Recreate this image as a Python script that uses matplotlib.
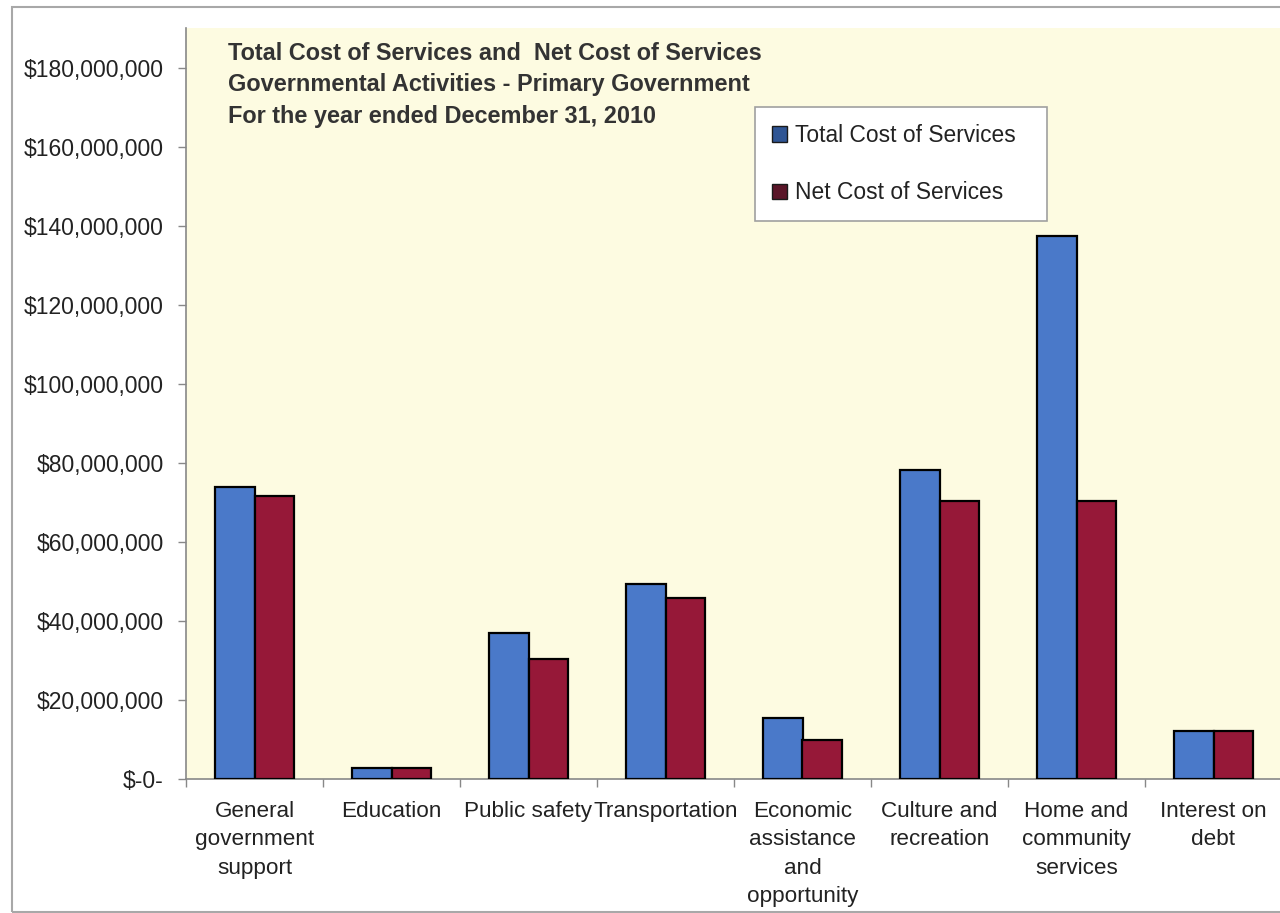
import matplotlib
matplotlib.use('Agg')
from matplotlib import pyplot as plt
from matplotlib.patches import Rectangle, Patch
from matplotlib.ticker import FuncFormatter
import numpy as np

plt.rcParams['font.family'] = ['Liberation Sans', 'DejaVu Sans']

# cost of services by function, 2010
categories = ['General\ngovernment\nsupport', 'Education', 'Public safety',
              'Transportation', 'Economic\nassistance\nand\nopportunity',
              'Culture and\nrecreation', 'Home and\ncommunity\nservices',
              'Interest on\ndebt']
total_cost = [73.8e6, 2.8e6, 36.9e6, 49.3e6, 15.4e6, 78.1e6, 137.3e6, 12.1e6]
net_cost = [71.5e6, 2.8e6, 30.3e6, 45.8e6, 9.9e6, 70.3e6, 70.3e6, 12.1e6]
series_names = ['Total Cost of Services', 'Net Cost of Services']
title_lines = ['Total Cost of Services and  Net Cost of Services',
               'Governmental Activities - Primary Government',
               'For the year ended December 31, 2010']

blue = '#4a79c9'
red = '#961838'

fig = plt.figure(figsize=(12.8, 9.13), dpi=100)
fig.patch.set_facecolor('white')

# outer chart frame
fig.patches.append(Rectangle((12 / 1280, 1 / 913), 1.0, 905 / 913,
                             transform=fig.transFigure, fill=False,
                             edgecolor='#a8a8a8', linewidth=1.5))

ax = fig.add_axes([186 / 1280, 134 / 913, 1096 / 1280, 751 / 913])
ax.set_facecolor('#fdfbe1')

x = np.arange(len(categories))
w = 0.29
ax.bar(x - w / 2, total_cost, w, color=blue, edgecolor='black', linewidth=1.6, zorder=3)
ax.bar(x + w / 2, net_cost, w, color=red, edgecolor='black', linewidth=1.6, zorder=3)

ax.set_xlim(-0.5, len(categories) - 0.5)
ax.set_ylim(0, 190e6)
ax.set_yticks(np.arange(0, 180e6 + 1, 20e6))
ax.yaxis.set_major_formatter(FuncFormatter(lambda v, p: '$-0-' if v == 0 else '${:,.0f}'.format(v)))
ax.tick_params(axis='y', labelsize=16.5, colors='#222222', length=6, width=1,
               pad=10, color='#888888')

ax.set_xticks(x)
ax.set_xticklabels(categories, fontsize=16.2, color='#222222', linespacing=1.45)
ax.tick_params(axis='x', length=0, pad=16)
ax.set_xticks(np.arange(-0.5, len(categories)), minor=True)
ax.tick_params(axis='x', which='minor', length=6, width=1, color='#888888')

for side in ['top', 'right']:
    ax.spines[side].set_visible(False)
ax.spines['left'].set_color('#888888')
ax.spines['bottom'].set_color('#888888')
ax.spines['left'].set_linewidth(1.2)
ax.spines['bottom'].set_linewidth(1.2)

# chart title inside the plot area
for i, line in enumerate(title_lines):
    ax.text((228 - 186) / 1096, (751 - 25 - i * 31.5) / 751, line,
            transform=ax.transAxes, fontsize=16.9, fontweight='bold',
            color='#333333', va='center', ha='left')

handles = [Patch(facecolor='#2f5594', edgecolor='#1a1a1a', linewidth=1),
           Patch(facecolor='#5a1528', edgecolor='#1a1a1a', linewidth=1)]
leg = ax.legend(handles, series_names, loc='upper left',
                bbox_to_anchor=((755 - 186) / 1096, (779 - 107) / 751,
                                (1047 - 755) / 1096, 0),
                mode='expand', borderaxespad=0, fontsize=16.4, frameon=True,
                fancybox=False, framealpha=1, edgecolor='#a0a0a0',
                labelspacing=1.5, handlelength=0.66, handleheight=0.66,
                handletextpad=0.35, borderpad=0.75, labelcolor='#222222')
leg.get_frame().set_linewidth(1.2)

fig.savefig('out.png', dpi=100)
